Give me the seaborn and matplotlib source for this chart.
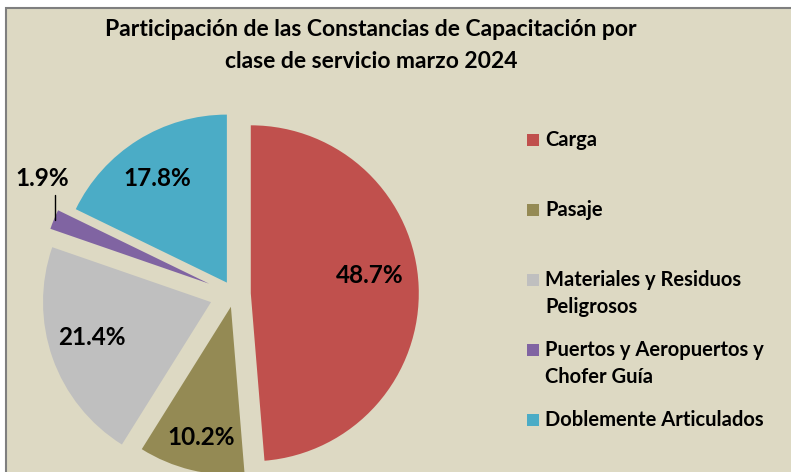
import matplotlib
matplotlib.use("Agg")
import matplotlib.pyplot as plt
import seaborn as sns
from matplotlib.patches import Rectangle
from matplotlib.lines import Line2D

# Datos
categorias = ["Carga", "Pasaje", "Materiales y Residuos\nPeligrosos",
              "Puertos y Aeropuertos y\nChofer Guía", "Doblemente Articulados"]
porcentajes = [48.7, 10.2, 21.4, 1.9, 17.8]
colores = ["#C0504D", "#948A54", "#BFBFBF", "#8064A2", "#4BACC6"]
titulo = ["Participación de las Constancias de Capacitación por",
          "clase de servicio marzo 2024"]

# Disposición
W, H = 791, 472
CX, CY, R = 234, 294, 168          # centro y radio del pastel en píxeles
separacion = [0.10, 0.078, 0.145, 0.16, 0.08]
pos_etiquetas = [(0.81, 0.113), (-0.197, -0.857), (-0.845, -0.256),
                 (-1.143, 0.690), (-0.458, 0.690)]
legend_y = [140, 210, 280, 350, 420]
fondo = "#DDD9C3"

sns.set_theme(style="white")
plt.rcParams["font.family"] = ["Lato", "DejaVu Sans"]

fig = plt.figure(figsize=(W / 100, H / 100), dpi=100)
fig.patch.set_facecolor("white")

# Área del gráfico
fig.patches.append(Rectangle((6 / W, -0.1), 1.2, (H - 8) / H + 0.1,
                             transform=fig.transFigure, facecolor=fondo,
                             edgecolor="#7F7F7F", linewidth=1.5, zorder=-5))

ax = fig.add_axes([0, 0, 1, 1], zorder=1)
ax.pie(porcentajes, colors=colores, explode=separacion, startangle=90,
       counterclock=False, radius=1, wedgeprops=dict(linewidth=0))
ax.set_xlim(-CX / R, (W - CX) / R)
ax.set_ylim(-(H - CY) / R, CY / R)
ax.set_aspect("auto")
ax.patch.set_visible(False)
ax.axis("off")

# Etiquetas de porcentaje
for v, (px, py) in zip(porcentajes, pos_etiquetas):
    ax.text(px, py, f"{v:.1f}%", ha="center", va="center",
            fontsize=17.5, fontweight="bold", color="black")

# Línea guía de la etiqueta pequeña
ax.add_line(Line2D([(55 - CX) / R] * 2, [(CY - 195) / R, (CY - 220) / R],
                   color="black", linewidth=1))

# Título
for i, linea in enumerate(titulo):
    fig.text(371 / W, 1 - (30 + 32 * i) / H, linea, ha="center", va="center",
             fontsize=16.5, fontweight="bold", color="black", zorder=5)

# Leyenda
for cat, col, y in zip(categorias, colores, legend_y):
    fig.patches.append(Rectangle((527 / W, 1 - (y + 6) / H), 12 / W, 12 / H,
                                 transform=fig.transFigure, facecolor=col,
                                 edgecolor="none", zorder=5))
    for j, linea in enumerate(cat.split("\n")):
        fig.text(545 / W, 1 - (y + 27 * j) / H, linea, ha="left", va="center",
                 fontsize=14.5, fontweight="bold", color="black", zorder=5)

fig.savefig("out.png", dpi=100, facecolor=fig.get_facecolor())
